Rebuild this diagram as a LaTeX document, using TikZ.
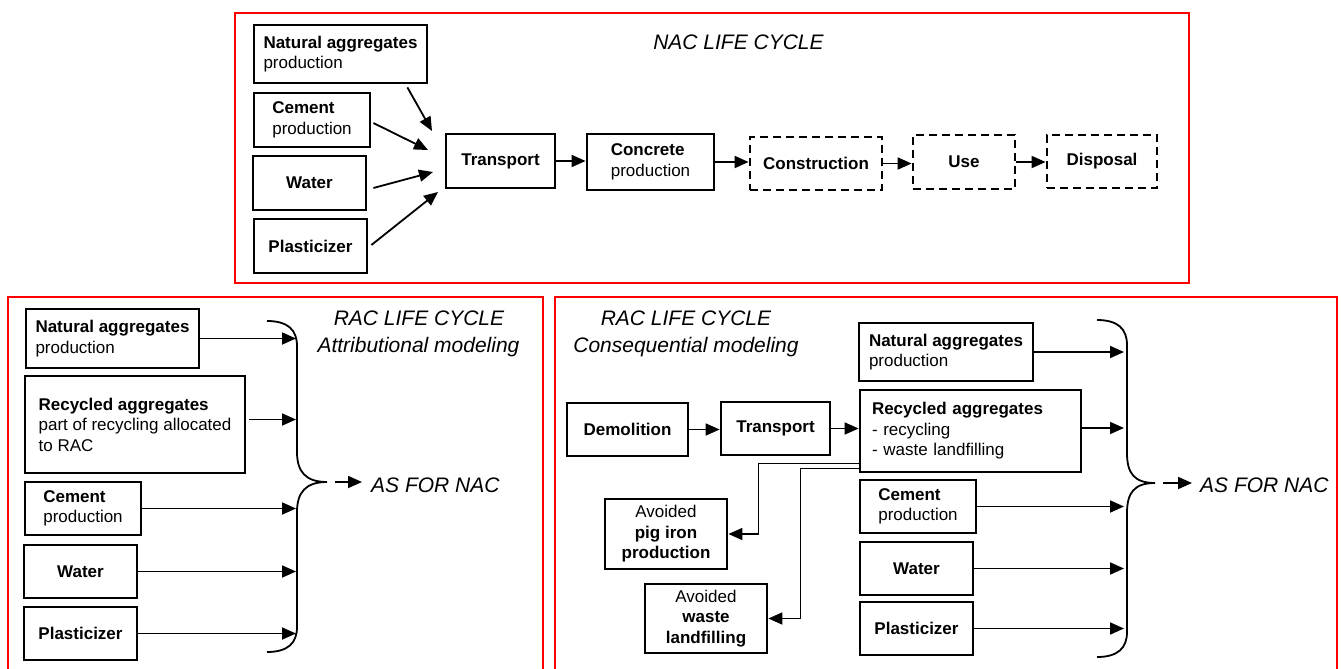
\documentclass[tikz,border=0pt]{standalone}
\usepackage{fontspec}
\setmainfont{Liberation Sans}
\usetikzlibrary{arrows.meta,calc}
\newcommand\boxfont{\fontsize{17}{20.5}\selectfont}
\newcommand\titlefont{\fontsize{21}{27}\selectfont\itshape}
\tikzset{
  box/.style={draw, line width=2.8pt, inner sep=0pt, align=left, font=\boxfont},
  dbox/.style={box, dash pattern=on 8pt off 5pt},
  arr/.style={line width=1.8pt, -{Triangle[length=14pt,width=12pt]}},
  frame/.style={draw=red, line width=2.8pt},
  brace/.style={line width=1.8pt},
  title/.style={font=\titlefont, inner sep=0pt},
}
\begin{document}
\begin{tikzpicture}[x=1pt,y=-1pt]
\useasboundingbox (0,0) rectangle (1341,669);
% frames
\draw[frame] (235,13) rectangle (1189,283);
\draw[frame] (8,680) -- (8,297) -- (543,297) -- (543,680);
\draw[frame] (555,680) -- (555,297) -- (1337,297) -- (1337,680);

% ---------- top: NAC life cycle
\node[title, anchor=base] (ttl) at (738.5,50) {NAC LIFE CYCLE};
\node[box, minimum width=173pt, minimum height=58pt] (tn) at (340.5,54) {\textbf{Natural aggregates}\\production};
\node[box, minimum width=116pt, minimum height=54pt] (tc) at (312,120) {\textbf{Cement}\\production};
\node[box, minimum width=113pt, minimum height=54pt] (tw) at (309.5,183) {\textbf{Water}};
\node[box, minimum width=113pt, minimum height=54pt] (tp) at (310.5,246) {\textbf{Plasticizer}};
\node[box, minimum width=109pt, minimum height=54pt] (tt) at (500.5,161) {\textbf{Transport}};
\node[box, minimum width=127pt, minimum height=56pt] (tcp) at (650.5,162) {\textbf{Concrete}\\production};
\node[dbox, minimum width=132pt, minimum height=53pt] (tcon) at (816,163.5) {\textbf{Construction}};
\node[dbox, minimum width=102pt, minimum height=54pt] (tuse) at (964,162) {\textbf{Use}};
\node[dbox, minimum width=110pt, minimum height=53pt] (tdis) at (1102,161.5) {\textbf{Disposal}};

\coordinate (e1) at (432,131);
\coordinate (e2) at (428,150);
\coordinate (e3) at (433,172);
\coordinate (e4) at (438,192);
\draw[arr] ($(tn.south east)+(-21,3)$) -- (e1);
\draw[arr] ($(tc.east)+(2,3)$) -- (e2);
\draw[arr] ($(tw.east)+(6,5)$) -- (e3);
\draw[arr] ($(tp.east)+(3,-1)$) -- (e4);
\draw[arr] (tt.east) -- (tt.east -| tcp.west);
\draw[arr] (tcp.east) -- (tcp.east -| tcon.west);
\draw[arr] (tcon.east) -- (tcon.east -| tuse.west);
\draw[arr] (tuse.east) -- (tuse.east -| tdis.west);

% ---------- bottom left: attributional
\node[title, anchor=base] (lt1) at (419,325) {RAC LIFE CYCLE};
\node[title, anchor=base] (lt2) at (418.5,352) {Attributional modeling};
\node[box, minimum width=173pt, minimum height=59pt] (ln) at (112.5,338.5) {\textbf{Natural aggregates}\\production};
\node[box, minimum width=220pt, minimum height=97pt] (lr) at (135,424.5) {\textbf{Recycled aggregates}\\part of recycling allocated\\to RAC};
\node[box, minimum width=116pt, minimum height=53pt] (lc) at (83,508.5) {\textbf{Cement}\\production};
\node[box, minimum width=113pt, minimum height=53pt] (lw) at (80.5,571.5) {\textbf{Water}};
\node[box, minimum width=113pt, minimum height=53pt] (lp) at (80.5,633.5) {\textbf{Plasticizer}};
\coordinate (lx) at (296,0);
\draw[arr] (ln.east) -- (ln.east -| lx);
\draw[arr] ($(lr.east)+(3,-5)$) -- ($(lr.east -| lx)+(0,-5)$);
\draw[arr] (lc.east) -- (lc.east -| lx);
\draw[arr] (lw.east) -- (lw.east -| lx);
\draw[arr] (lp.east) -- (lp.east -| lx);
\coordinate (ltip) at (327,482);
\draw[brace] (267,321) .. controls (288,321) and (297,330) .. (297,346) -- (297,452)
  .. controls (297,472) and (306,482) .. (ltip)
  .. controls (306,482) and (297,492) .. (297,512) -- (297,627)
  .. controls (297,643) and (288,652) .. (267,652);
\node[title, anchor=base west] (las) at (371,492) {AS FOR NAC};
\draw[arr] ($(ltip)+(8,0)$) -- ($(ltip -| las.west)+(-9,0)$);

% ---------- bottom right: consequential
\node[title, anchor=base] (rt1) at (686,325) {RAC LIFE CYCLE};
\node[title, anchor=base] (rt2) at (686,352) {Consequential modeling};
\node[box, minimum width=174pt, minimum height=58pt] (rn) at (946,352) {\textbf{Natural aggregates}\\production};
\node[box, text width=197pt, minimum width=221pt, minimum height=82pt] (rr) at (970.5,431) {\textbf{Recycled aggregates}\\- recycling\\- waste landfilling};
\node[box, minimum width=116pt, minimum height=53pt] (rc) at (918,506.5) {\textbf{Cement}\\production};
\node[box, minimum width=113pt, minimum height=53pt] (rw) at (916.5,568.5) {\textbf{Water}};
\node[box, minimum width=113pt, minimum height=53pt] (rp) at (916.5,628.5) {\textbf{Plasticizer}};
\node[box, minimum width=121pt, minimum height=53pt] (rd) at (627.5,429.5) {\textbf{Demolition}};
\node[box, minimum width=109pt, minimum height=53pt] (rtr) at (775.5,428.5) {\textbf{Transport}};
\node[box, align=center, minimum width=122pt, minimum height=70pt] (rpi) at (666,534) {Avoided\\\textbf{pig iron}\\\textbf{production}};
\node[box, align=center, minimum width=122pt, minimum height=69pt] (rwl) at (706,618.5) {Avoided\\\textbf{waste}\\\textbf{landfilling}};

\draw[arr] (rd.east) -- (rd.east -| rtr.west);
\draw[arr] (rtr.east) -- (rtr.east -| rr.west);
\draw[arr] ($(rr.south west)+(0,-10)$) -| ($(rpi.east)+(30,0)$) -- (rpi.east);
\draw[arr] ($(rr.south west)+(0,-5)$) -| ($(rwl.east)+(32,0)$) -- (rwl.east);

\coordinate (rx) at (1124,0);
\draw[arr] (rn.east) -- (rn.east -| rx);
\draw[arr] ($(rr.east)+(0,-3)$) -- ($(rr.east -| rx)+(0,-3)$);
\draw[arr] (rc.east) -- (rc.east -| rx);
\draw[arr] (rw.east) -- (rw.east -| rx);
\draw[arr] (rp.east) -- (rp.east -| rx);
\coordinate (rtip) at (1155,483);
\draw[brace] (1097,320) .. controls (1118,320) and (1127,329) .. (1127,345) -- (1127,453)
  .. controls (1127,473) and (1134,483) .. (rtip)
  .. controls (1134,483) and (1127,493) .. (1127,513) -- (1127,632)
  .. controls (1127,648) and (1118,657) .. (1097,657);
\node[title, anchor=base west] (ras) at (1200,492) {AS FOR NAC};
\draw[arr] ($(rtip)+(8,0)$) -- ($(rtip -| ras.west)+(-8,0)$);
\end{tikzpicture}
\end{document}
